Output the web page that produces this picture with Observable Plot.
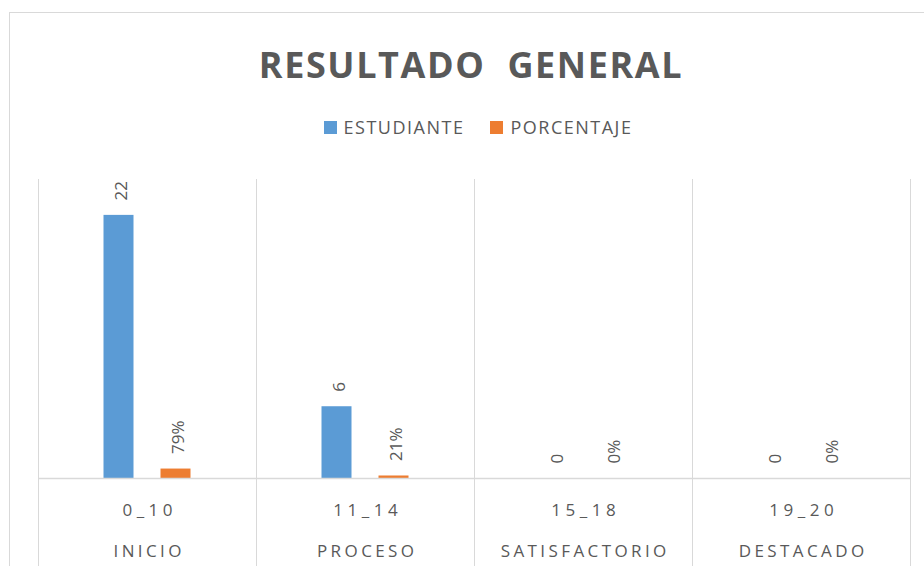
<!DOCTYPE html>
<html>
<head>
<meta charset="utf-8">
<script src="https://cdn.jsdelivr.net/npm/d3@7"></script>
<script src="https://cdn.jsdelivr.net/npm/@observablehq/plot@0.6"></script>
<style>
  html, body { margin: 0; padding: 0; background: #fff; }
  #wrap { position: relative; width: 924px; height: 566px; overflow: hidden; font-family: "Open Sans", sans-serif; }
  #border { position: absolute; left: 9px; top: 12px; width: 940px; height: 600px; border: 1px solid #d9d9d9; box-sizing: border-box; }
  #header { position: relative; height: 150px; }
  #title { position: absolute; left: 0; top: 47px; width: 942px; text-align: center; font-size: 36px; line-height: 1; font-weight: 700; color: #595959; white-space: pre; letter-spacing: 1.6px; }
  #legend { position: absolute; left: 0; top: 118px; width: 924px; display: flex; justify-content: center; gap: 26px; padding-left: 32px; box-sizing: border-box; font-size: 18px; line-height: 1; color: #595959; letter-spacing: 1.5px; }
  .item { display: flex; align-items: center; }
  .sw { width: 13px; height: 13px; margin-right: 7px; }
  #chart { position: relative; }
</style>
</head>
<body>
<div id="wrap">
  <div id="border"></div>
  <div id="header">
    <div id="title"></div>
    <div id="legend"></div>
  </div>
  <div id="chart"></div>
</div>
<script>
const titleText = "RESULTADO  GENERAL";
const categories = ["0_10", "11_14", "15_18", "19_20"];
const levels = ["INICIO", "PROCESO", "SATISFACTORIO", "DESTACADO"];
const seriesNames = ["ESTUDIANTE", "PORCENTAJE"];
const seriesColors = ["#5B9BD5", "#ED7D31"];
const estudiantes = [22, 6, 0, 0];
const porcentaje = [0.79, 0.21, 0, 0];

document.getElementById("title").textContent = titleText;
const legend = d3.select("#legend");
seriesNames.forEach((name, i) => {
  const it = legend.append("div").attr("class", "item");
  it.append("div").attr("class", "sw").style("background", seriesColors[i]);
  it.append("span").text(name);
});

const levelOf = new Map(categories.map((c, i) => [c, levels[i]]));
const est = categories.map((c, i) => ({cat: c, value: estudiantes[i]}));
const pct = categories.map((c, i) => ({cat: c, value: porcentaje[i]}));

const half = 109;
const chart = Plot.plot({
  width: 924,
  height: 416,
  marginTop: 29,
  marginBottom: 88,
  marginLeft: 38,
  marginRight: 14,
  style: {color: "#595959", fontFamily: "Open Sans", background: "transparent", overflow: "visible"},
  x: {domain: categories, padding: 0, axis: null, label: null},
  y: {domain: [0, 25], axis: null, label: null},
  marks: [
    Plot.ruleX(categories, {x: d => d, dx: -half, stroke: "#d9d9d9", insetBottom: -88}),
    Plot.ruleX(categories.slice(-1), {x: d => d, dx: half, stroke: "#d9d9d9", insetBottom: -88}),
    Plot.barY(est, {x: "cat", y: "value", fill: seriesColors[0], insetLeft: 94, insetRight: 94, dx: -28.5}),
    Plot.barY(pct, {x: "cat", y: "value", fill: seriesColors[1], insetLeft: 94, insetRight: 94, dx: 28.5}),
    Plot.ruleY([0], {stroke: "#d9d9d9", strokeWidth: 1.5}),
    Plot.text(est, {x: "cat", y: "value", text: d => String(d.value), rotate: -90, textAnchor: "start", lineAnchor: "middle", dx: -25.5, dy: -15, fontSize: 17, fill: "#595959"}),
    Plot.text(pct, {x: "cat", y: "value", text: d => d3.format(".0%")(d.value), rotate: -90, textAnchor: "start", lineAnchor: "middle", dx: 31.5, dy: -15, fontSize: 17, fill: "#595959"}),
    Plot.axisX({tickSize: 0, tickPadding: 25, fontSize: 17, fill: "#595959", label: null}),
    Plot.axisX({tickSize: 0, tickPadding: 66, fontSize: 17, fill: "#595959", label: null, tickFormat: d => levelOf.get(d)})
  ]
});
document.getElementById("chart").appendChild(chart);
const groups = chart.querySelectorAll('g[aria-label="x-axis tick label"]');
if (groups[0]) { groups[0].setAttribute("letter-spacing", "4.5"); groups[0].querySelectorAll("text").forEach(t => t.setAttribute("dx", "2.2")); }
if (groups[1]) { groups[1].setAttribute("letter-spacing", "3.4"); groups[1].querySelectorAll("text").forEach(t => t.setAttribute("dx", "1.7")); }
</script>
</body>
</html>
